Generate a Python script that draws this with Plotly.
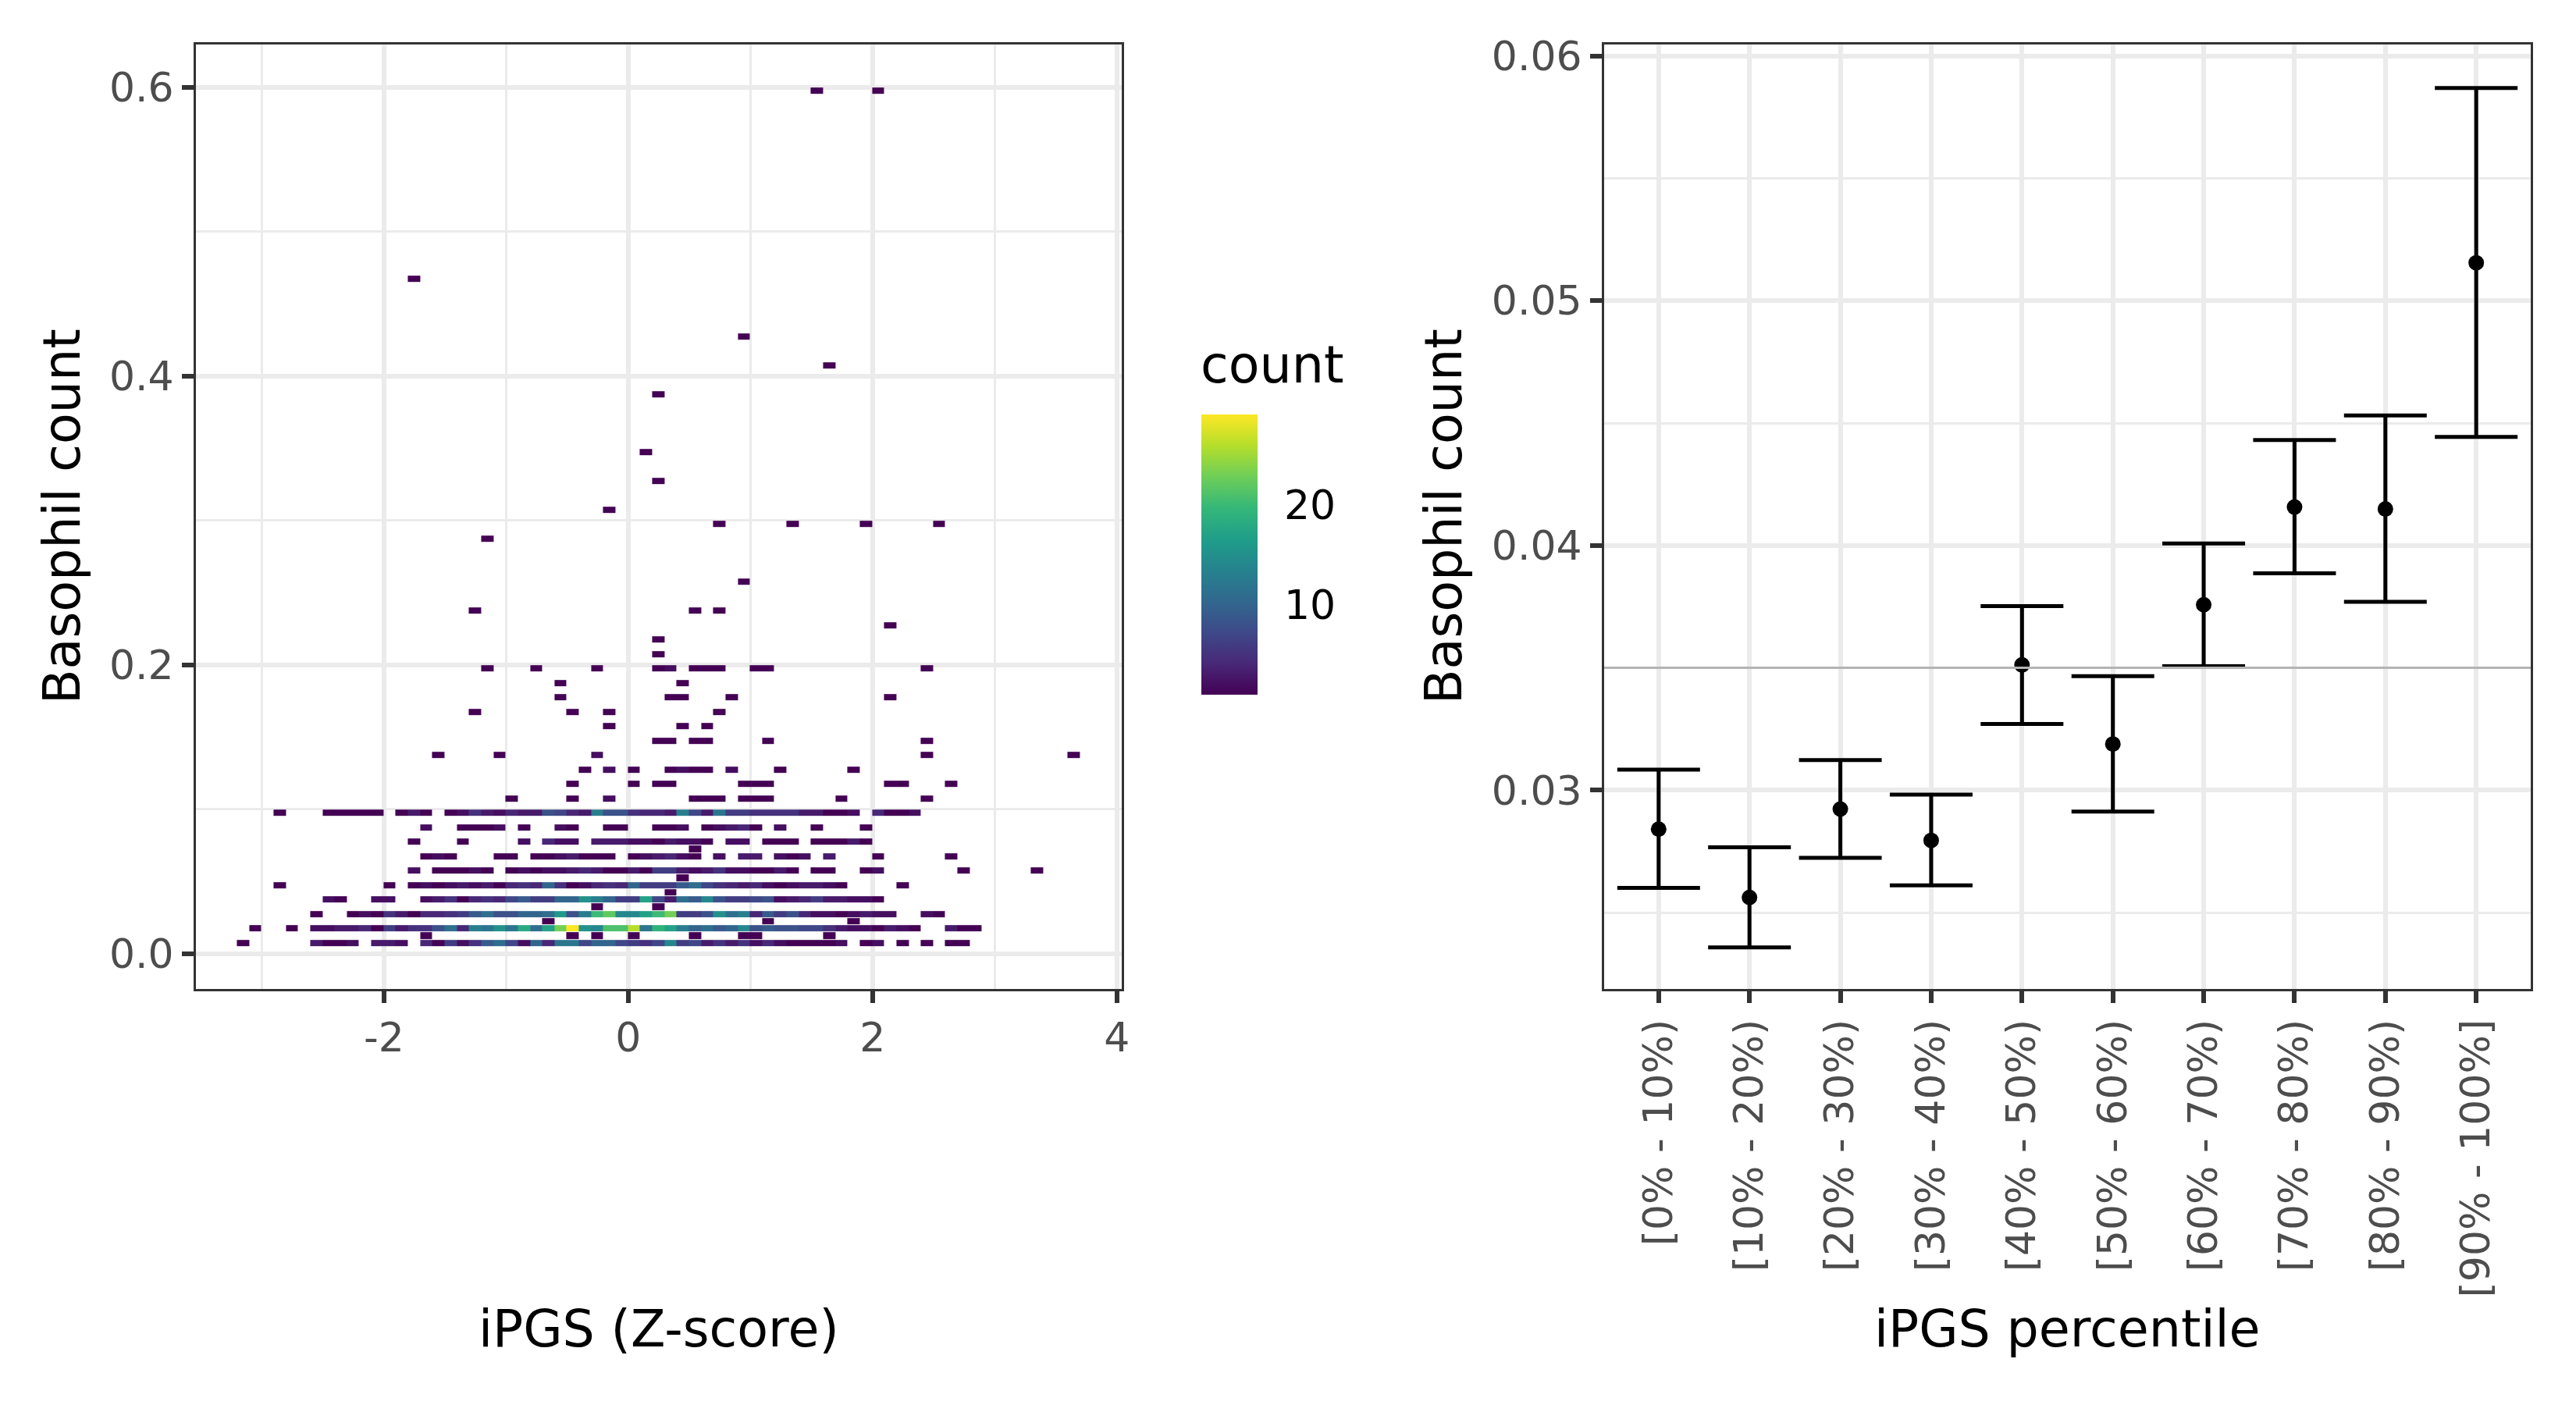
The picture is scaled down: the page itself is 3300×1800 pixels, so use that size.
import plotly.graph_objects as go

FONT = "DejaVu Sans"

# ---------------- left panel: 2-D bin counts ----------------
# x bin centres (iPGS Z-score)
x_bins = [-3.155, -3.055, -2.955, -2.855, -2.755, -2.655, -2.555, -2.455, -2.355, -2.255,
          -2.155, -2.055, -1.955, -1.855, -1.755, -1.655, -1.555, -1.455, -1.355, -1.255,
          -1.155, -1.055, -0.955, -0.855, -0.755, -0.655, -0.555, -0.455, -0.355, -0.255,
          -0.155, -0.055, 0.045, 0.145, 0.245, 0.345, 0.445, 0.545, 0.645, 0.745,
          0.845, 0.945, 1.045, 1.145, 1.245, 1.345, 1.445, 1.545, 1.645, 1.745,
          1.845, 1.945, 2.045, 2.145, 2.245, 2.345, 2.445, 2.545, 2.645, 2.745,
          2.845, 2.945, 3.045, 3.145, 3.245, 3.345, 3.445, 3.545, 3.645]
# y bin grid (Basophil count), bin height 0.005
y_bins = [round(0.0072 + 0.005 * k, 4) for k in range(119)]

# dense rows: counts for every x bin (0 = empty)
dense_y = [0.0072, 0.0172, 0.0272, 0.0372, 0.0472, 0.0572, 0.0672, 0.0772, 0.0872, 0.0972]
dense_counts = [
    [1,0,0,0,0,0,3,1,1,2, 0,3,3,2,0,4,1,6,2,5, 9,11,7,2,10,4,12,12,7,10, 10,7,6,5,7,14,6,7,3,5,
     3,5,2,4,2,1,1,1,1,2, 0,1,2,0,1,0,1,0,1,1, 0,0,0,0,0,0,0,0,0],
    [0,1,0,0,1,0,2,2,3,3, 4,1,6,3,5,5,8,11,4,13, 12,15,12,18,11,17,23,29,15,14, 21,21,26,12,19,17,13,10,11,9,
     10,14,8,9,8,8,7,7,5,3, 2,2,1,3,2,1,0,0,3,1, 1,0,0,0,0,0,0,0,0],
    [0,0,0,0,0,0,1,0,0,1, 2,1,5,3,1,4,4,5,6,9, 11,8,8,10,10,11,16,8,13,20, 22,14,14,17,20,23,6,6,8,15,
     11,13,4,9,6,8,4,2,2,1, 2,3,2,2,0,0,2,1,0,0, 0,0,0,0,0,0,0,0,0],
    [0,0,0,0,0,0,0,2,1,0, 0,2,2,0,0,2,3,5,1,4, 5,4,7,9,6,6,10,10,15,13, 10,6,6,17,7,3,11,9,14,8,
     6,6,7,8,2,3,4,6,3,3, 2,2,1,0,0,0,0,0,0,0, 0,0,0,0,0,0,0,0,0],
    [0,0,0,1,0,0,0,0,0,0, 0,0,1,0,1,2,1,2,3,2, 3,1,4,5,4,10,5,1,2,4, 5,4,10,6,6,6,9,11,7,5,
     4,3,4,2,1,2,3,3,2,1, 0,0,0,0,1,0,0,0,0,0, 0,0,0,0,0,0,0,0,0],
    [0,0,0,0,0,0,0,0,0,0, 0,0,0,0,2,0,1,1,1,2, 1,0,1,2,1,2,2,3,4,3, 1,1,3,1,6,6,3,2,3,5,
     2,2,1,1,3,1,0,1,1,0, 0,1,2,0,0,0,0,0,0,1, 0,0,0,0,0,1,0,0,0],
    [0,0,0,0,0,0,0,0,0,0, 0,0,0,0,0,1,2,1,0,0, 0,1,1,0,1,1,2,3,1,1, 1,0,1,2,3,4,2,1,0,2,
     0,3,3,0,2,1,2,0,3,0, 0,0,1,0,0,0,0,0,1,0, 0,0,0,0,0,0,0,0,0],
    [0,0,0,0,0,0,0,0,0,0, 0,0,0,0,1,0,0,0,1,0, 0,0,0,2,0,4,2,2,0,3, 3,3,2,2,1,3,2,2,1,0,
     2,2,0,1,1,1,0,1,1,1, 3,1,0,0,0,0,0,0,0,0, 0,0,0,0,0,0,0,0,0],
    [0,0,0,0,0,0,0,0,0,0, 0,0,0,0,0,2,0,0,1,1, 1,2,0,1,0,0,2,1,0,0, 1,1,0,0,1,1,2,0,1,2,
     3,4,1,0,2,0,0,1,0,0, 0,1,0,0,0,0,0,0,0,0, 0,0,0,0,0,0,0,0,0],
    [0,0,0,1,0,0,0,1,1,1, 1,1,0,1,3,1,0,1,2,5, 3,2,4,3,3,8,7,4,3,13, 8,8,5,4,4,3,13,7,3,12,
     6,6,5,5,5,5,3,3,1,1, 2,0,4,1,1,2,0,0,0,0, 0,0,0,0,0,0,0,0,0],
]

# sparse rows: occupied bins only
sparse_row_y = [0.0122, 0.0222, 0.0322, 0.0422, 0.0522, 0.0722, 0.1072, 0.1172, 0.1272, 0.1372,
                0.1472, 0.1572, 0.1672, 0.1772, 0.1872, 0.1972, 0.2072, 0.2172, 0.2272, 0.2372,
                0.2572, 0.2872, 0.2972, 0.3072, 0.3272, 0.3472, 0.3872, 0.4072, 0.4272, 0.4672,
                0.5972]
sparse_row_x = [
    [-1.655, -0.455, -0.255, 0.045, 0.545, 0.945, 1.045, 1.645],
    [-0.655, 1.145, 1.845],
    [-0.255, 0.245],
    [0.345],
    [0.445],
    [0.545],
    [-0.955, -0.455, -0.155, 0.545, 0.645, 0.745, 0.945, 1.045, 1.145, 1.745, 2.445],
    [-0.455, 0.045, 0.245, 0.345, 0.945, 1.045, 1.145, 2.145, 2.245, 2.645],
    [-0.355, -0.155, 0.045, 0.345, 0.445, 0.545, 0.645, 0.845, 1.245, 1.845],
    [-1.555, -1.055, -0.255, 2.445, 3.645],
    [0.245, 0.345, 0.545, 0.645, 1.145, 2.445],
    [-0.155, 0.445, 0.645],
    [-1.255, -0.455, -0.155, 0.745],
    [-0.555, 0.345, 0.445, 0.845, 2.145],
    [-0.555, 0.445],
    [-1.155, -0.755, -0.255, 0.245, 0.345, 0.545, 0.645, 0.745, 1.045, 1.145, 2.445],
    [0.245],
    [0.245],
    [2.145],
    [-1.255, 0.545, 0.745],
    [0.945],
    [-1.155],
    [0.745, 1.345, 1.945, 2.545],
    [-0.155],
    [0.245],
    [0.145],
    [0.245],
    [1.645],
    [0.945],
    [-1.755],
    [1.545, 2.045],
]
sparse_row_n = [
    [1, 1, 1, 1, 1, 1, 1, 1],
    [1, 1, 1],
    [1, 1],
    [1],
    [1],
    [1],
    [1, 1, 2, 1, 1, 1, 1, 1, 1, 1, 1],
    [1, 1, 1, 1, 1, 1, 1, 1, 1, 1],
    [1, 2, 1, 1, 2, 1, 1, 2, 1, 1],
    [1, 1, 2, 1, 1],
    [1, 1, 1, 1, 1, 1],
    [1, 1, 1],
    [1, 1, 1, 1],
    [1, 1, 1, 1, 1],
    [1, 1],
    [1, 1, 1, 1, 2, 1, 1, 1, 1, 1, 1],
    [1],
    [1],
    [1],
    [1, 1, 1],
    [1],
    [1],
    [1, 1, 1, 1],
    [1],
    [1],
    [1],
    [1],
    [1],
    [1],
    [1],
    [1, 1],
]

left_x_tickvals = [-2, 0, 2, 4]
left_x_ticktext = ["-2", "0", "2", "4"]
left_y_tickvals = [0.0, 0.2, 0.4, 0.6]
left_y_ticktext = ["0.0", "0.2", "0.4", "0.6"]
count_ticks = [10, 20]

# ---------------- right panel: mean by percentile ----------------
pct_labels = ["[0% - 10%)", "[10% - 20%)", "[20% - 30%)", "[30% - 40%)", "[40% - 50%)",
              "[50% - 60%)", "[60% - 70%)", "[70% - 80%)", "[80% - 90%)", "[90% - 100%]"]
pct_mean = [0.02841, 0.02562, 0.02923, 0.02795, 0.03512, 0.03189, 0.03758, 0.04157, 0.04149, 0.05155]
pct_upper = [0.03084, 0.02767, 0.03123, 0.02982, 0.03752, 0.03466, 0.04008, 0.04431, 0.04531, 0.05869]
pct_lower = [0.02601, 0.02358, 0.02724, 0.02611, 0.03271, 0.02913, 0.03507, 0.03886, 0.03770, 0.04444]
overall_mean = 0.035
right_y_tickvals = [0.03, 0.04, 0.05, 0.06]
right_y_ticktext = ["0.03", "0.04", "0.05", "0.06"]

# ---------------- build z grid ----------------
z = [[None] * len(x_bins) for _ in y_bins]


def yi(v):
    return int(round((v - y_bins[0]) / 0.005))


def xi(v):
    return int(round((v - x_bins[0]) / 0.1))


for yv, row in zip(dense_y, dense_counts):
    for i, n in enumerate(row):
        if n:
            z[yi(yv)][i] = n
for yv, xs, ns in zip(sparse_row_y, sparse_row_x, sparse_row_n):
    for xv, n in zip(xs, ns):
        z[yi(yv)][xi(xv)] = n

W, H = 3300, 1800
OFF = 8  # page body margin of the html page


def px(v):
    return (v - OFF) / W


def py(v):
    return 1 - (v - OFF) / H


GRID = "#ebebeb"
AX = "#333333"
TICKC = "#4d4d4d"

fig = go.Figure()
fig.add_trace(go.Heatmap(
    x=x_bins, y=y_bins, z=z, colorscale="Viridis", zmin=1, zmax=29,
    xgap=0, ygap=1, hoverongaps=False, xaxis="x", yaxis="y",
    colorbar=dict(
        tickvals=count_ticks, ticks="outside", ticklen=24, tickwidth=1,
        tickcolor="rgba(255,255,255,0)",
        tickfont=dict(size=52, color="black", family=FONT),
        thickness=72, thicknessmode="pixels", len=359, lenmode="pixels",
        x=px(1539), xanchor="left", xpad=0, y=py(531), yanchor="top", ypad=0,
        outlinewidth=0,
    ),
))

fig.add_trace(go.Scatter(
    x=pct_labels, y=pct_mean, mode="markers",
    marker=dict(size=20, color="black"),
    error_y=dict(type="data", symmetric=False,
                 array=[u - m for u, m in zip(pct_upper, pct_mean)],
                 arrayminus=[m - l for m, l in zip(pct_mean, pct_lower)],
                 color="black", thickness=5, width=53),
    xaxis="x2", yaxis="y2", showlegend=False,
))

fig.add_shape(type="line", xref="x2 domain", yref="y2", x0=0, x1=1,
              y0=overall_mean, y1=overall_mean, line=dict(color="#b4b4b4", width=3),
              layer="above")

common = dict(
    showgrid=True, gridcolor=GRID, gridwidth=6, zeroline=False, automargin=False,
    showline=True, mirror=True, linecolor=AX, linewidth=3,
    ticks="outside", ticklen=15, tickwidth=6, tickcolor=AX,
    tickfont=dict(size=52, color=TICKC, family=FONT),
)
ydom = [py(1267), py(57)]

fig.update_layout(
    width=W, height=H, margin=dict(l=0, r=0, t=0, b=0, autoexpand=False),
    paper_bgcolor="white", plot_bgcolor="white",
    font=dict(family=FONT),
    showlegend=False,
    xaxis=dict(domain=[px(251), px(1437)], range=[-3.54, 4.04], anchor="y",
               tickvals=left_x_tickvals, ticktext=left_x_ticktext,
               minor=dict(tickvals=[-3, -1, 1, 3], showgrid=True, gridcolor=GRID, gridwidth=3, ticks=""),
               **common),
    yaxis=dict(domain=ydom, range=[-0.0245, 0.6295], anchor="x",
               tickvals=left_y_tickvals, ticktext=left_y_ticktext,
               minor=dict(tickvals=[0.1, 0.3, 0.5], showgrid=True, gridcolor=GRID, gridwidth=3, ticks=""),
               **common),
    xaxis2=dict(domain=[px(2055), px(3242)], range=[-0.6, 9.6], anchor="y2", type="category",
                tickangle=-90, **common),
    yaxis2=dict(domain=ydom, range=[0.02188, 0.06047], anchor="x2",
                tickvals=right_y_tickvals, ticktext=right_y_ticktext,
                minor=dict(tickvals=[0.025, 0.035, 0.045, 0.055], showgrid=True, gridcolor=GRID,
                           gridwidth=3, ticks=""),
                **common),
)

title_font = dict(size=65, color="black", family=FONT)
fig.add_annotation(text="count", xref="paper", yref="paper", x=px(1536), y=py(467),
                   showarrow=False, font=title_font, xanchor="left", yanchor="middle")
fig.add_annotation(text="Basophil count", xref="paper", yref="paper", x=px(80), y=py(662),
                   textangle=-90, showarrow=False, font=title_font, xanchor="center", yanchor="middle")
fig.add_annotation(text="Basophil count", xref="paper", yref="paper", x=px(1850), y=py(662),
                   textangle=-90, showarrow=False, font=title_font, xanchor="center", yanchor="middle")
fig.add_annotation(text="iPGS (Z-score)", xref="paper", yref="paper", x=px(844), y=py(1702),
                   showarrow=False, font=title_font, xanchor="center", yanchor="middle")
fig.add_annotation(text="iPGS percentile", xref="paper", yref="paper", x=px(2648), y=py(1702),
                   showarrow=False, font=title_font, xanchor="center", yanchor="middle")

fig.write_html("out.html")
